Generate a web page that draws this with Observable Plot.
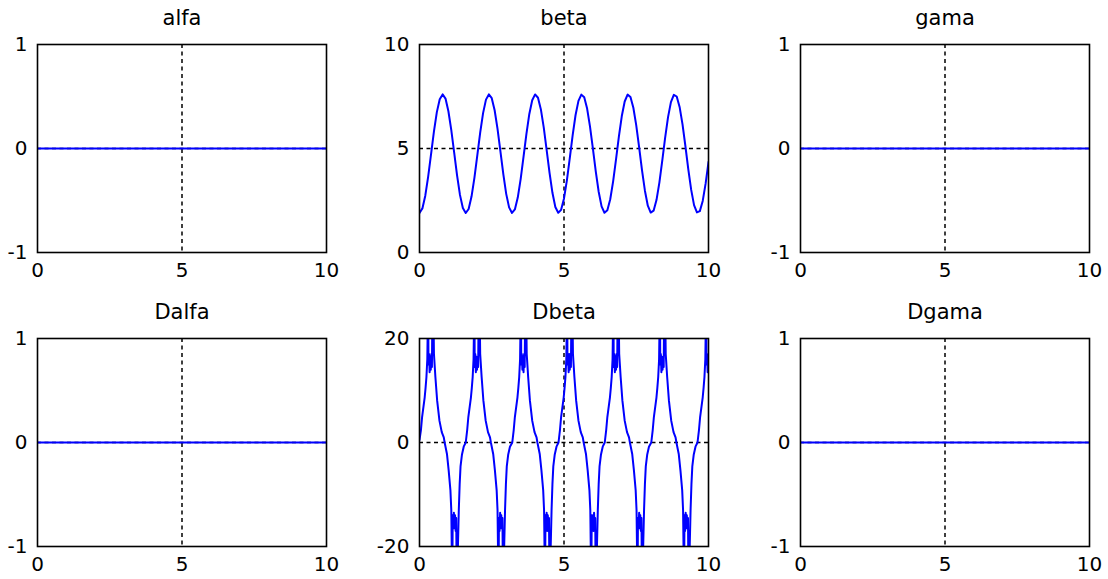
<!DOCTYPE html>
<html>
<head>
<meta charset="utf-8">
<script src="https://cdn.jsdelivr.net/npm/d3@7"></script>
<script src="https://cdn.jsdelivr.net/npm/@observablehq/plot@0.6"></script>
<style>
  html, body { margin: 0; padding: 0; background: #fff; }
  #chart { position: relative; width: 1108px; height: 579px; background: #fff; overflow: hidden; }
  .panel { position: absolute; }
  .panel svg { max-width: none !important; }
</style>
</head>
<body>
<div id="chart"></div>
<script>
// ---------- data ----------
const titles = ["alfa", "beta", "gama", "Dalfa", "Dbeta", "Dgama"];
const xTicks = [0, 5, 10];
const yTicksAlfa = [-1, 0, 1];
const yTicksBeta = [0, 5, 10];
const yTicksGama = [-1, 0, 1];
const yTicksDalfa = [-1, 0, 1];
const yTicksDbeta = [-20, 0, 20];
const yTicksDgama = [-1, 0, 1];

// flat series (alfa, gama, Dalfa, Dgama are constantly zero)
const flatTime = [0, 10];
const alfaValue = [0, 0];
const gamaValue = [0, 0];
const dalfaValue = [0, 0];
const dgamaValue = [0, 0];

// beta, every 0.1
const betaTime = [
  0.0, 0.1, 0.2, 0.3, 0.4, 0.5, 0.6, 0.7, 0.8, 0.9,
  1.0, 1.1, 1.2, 1.3, 1.4, 1.5, 1.6, 1.7, 1.8, 1.9,
  2.0, 2.1, 2.2, 2.3, 2.4, 2.5, 2.6, 2.7, 2.8, 2.9,
  3.0, 3.1, 3.2, 3.3, 3.4, 3.5, 3.6, 3.7, 3.8, 3.9,
  4.0, 4.1, 4.2, 4.3, 4.4, 4.5, 4.6, 4.7, 4.8, 4.9,
  5.0, 5.1, 5.2, 5.3, 5.4, 5.5, 5.6, 5.7, 5.8, 5.9,
  6.0, 6.1, 6.2, 6.3, 6.4, 6.5, 6.6, 6.7, 6.8, 6.9,
  7.0, 7.1, 7.2, 7.3, 7.4, 7.5, 7.6, 7.7, 7.8, 7.9,
  8.0, 8.1, 8.2, 8.3, 8.4, 8.5, 8.6, 8.7, 8.8, 8.9,
  9.0, 9.1, 9.2, 9.3, 9.4, 9.5, 9.6, 9.7, 9.8, 9.9,
  10.0
];
const betaValue = [
  1.90, 2.12, 2.73, 3.65, 4.73, 5.82, 6.75, 7.37, 7.60, 7.40,
  6.79, 5.88, 4.80, 3.71, 2.77, 2.14, 1.90, 2.09, 2.69, 3.59,
  4.67, 5.76, 6.70, 7.35, 7.60, 7.42, 6.84, 5.94, 4.86, 3.77,
  2.82, 2.17, 1.90, 2.07, 2.64, 3.53, 4.61, 5.70, 6.66, 7.32,
  7.60, 7.44, 6.88, 6.00, 4.92, 3.83, 2.87, 2.19, 1.91, 2.05,
  2.60, 3.47, 4.54, 5.64, 6.61, 7.29, 7.59, 7.46, 6.92, 6.05,
  4.99, 3.89, 2.92, 2.22, 1.91, 2.03, 2.56, 3.42, 4.48, 5.58,
  6.56, 7.26, 7.59, 7.48, 6.96, 6.11, 5.05, 3.95, 2.97, 2.25,
  1.92, 2.01, 2.52, 3.36, 4.42, 5.52, 6.51, 7.23, 7.58, 7.50,
  7.00, 6.17, 5.12, 4.01, 3.02, 2.28, 1.93, 1.99, 2.48, 3.31,
  4.35
];

// Dbeta (values beyond +-20 leave the axes and are clipped)
const dbetaTime = [
  0.00, 0.05, 0.09, 0.14, 0.18, 0.21, 0.24, 0.27, 0.29, 0.30, 0.31, 0.33, 0.35, 0.37, 0.39, 0.41, 0.43, 0.45, 0.48, 0.50, 0.55, 0.61, 0.69, 0.77, 0.84, 0.87, 0.95, 1.01, 1.07, 1.10, 1.12, 1.13, 1.15, 1.17, 1.19, 1.21, 1.23, 1.25, 1.27, 1.29, 1.31, 1.33, 1.36, 1.39, 1.42, 1.47, 1.53,
  1.60, 1.65, 1.69, 1.74, 1.78, 1.81, 1.84, 1.87, 1.89, 1.90, 1.91, 1.93, 1.95, 1.97, 1.99, 2.01, 2.03, 2.05, 2.08, 2.10, 2.15, 2.21, 2.29, 2.37, 2.44, 2.47, 2.55, 2.61, 2.67, 2.70, 2.72, 2.73, 2.75, 2.77, 2.79, 2.81, 2.83, 2.85, 2.87, 2.89, 2.91, 2.93, 2.96, 2.99, 3.02, 3.07, 3.13,
  3.21, 3.26, 3.30, 3.35, 3.39, 3.42, 3.45, 3.48, 3.50, 3.51, 3.52, 3.54, 3.56, 3.58, 3.60, 3.62, 3.64, 3.66, 3.69, 3.71, 3.76, 3.82, 3.90, 3.98, 4.05, 4.08, 4.16, 4.22, 4.28, 4.31, 4.33, 4.34, 4.36, 4.38, 4.40, 4.42, 4.44, 4.46, 4.48, 4.50, 4.52, 4.54, 4.57, 4.60, 4.63, 4.68, 4.74,
  4.81, 4.86, 4.90, 4.95, 4.99, 5.02, 5.05, 5.08, 5.10, 5.11, 5.12, 5.14, 5.16, 5.18, 5.20, 5.22, 5.24, 5.26, 5.29, 5.31, 5.36, 5.42, 5.50, 5.58, 5.65, 5.68, 5.76, 5.82, 5.88, 5.91, 5.93, 5.94, 5.96, 5.98, 6.00, 6.02, 6.04, 6.06, 6.08, 6.10, 6.12, 6.14, 6.17, 6.20, 6.23, 6.28, 6.34,
  6.41, 6.46, 6.50, 6.55, 6.59, 6.62, 6.65, 6.68, 6.70, 6.71, 6.72, 6.74, 6.76, 6.78, 6.80, 6.82, 6.84, 6.86, 6.89, 6.91, 6.96, 7.02, 7.10, 7.18, 7.25, 7.28, 7.36, 7.42, 7.48, 7.51, 7.53, 7.54, 7.56, 7.58, 7.60, 7.62, 7.64, 7.66, 7.68, 7.70, 7.72, 7.74, 7.77, 7.80, 7.83, 7.88, 7.94,
  8.02, 8.07, 8.11, 8.16, 8.20, 8.23, 8.26, 8.29, 8.31, 8.32, 8.33, 8.35, 8.37, 8.39, 8.41, 8.43, 8.45, 8.47, 8.50, 8.52, 8.57, 8.63, 8.71, 8.79, 8.86, 8.89, 8.97, 9.03, 9.09, 9.12, 9.14, 9.15, 9.17, 9.19, 9.21, 9.23, 9.25, 9.27, 9.29, 9.31, 9.33, 9.35, 9.38, 9.41, 9.44, 9.49, 9.55,
  9.62, 9.67, 9.71, 9.76, 9.80, 9.83, 9.86, 9.89, 9.91, 9.92, 9.93, 9.95, 9.97, 9.99, 10.00
];
const dbetaValue = [
  0.5, 2.4, 4.9, 7.0, 8.7, 10.5, 12.6, 16, 24, 30, 15, 17, 13.5, 16.5, 14, 17, 14.5, 28, 26, 17, 12.6, 8.1, 4.2, 2.0, 1.0, 0, -2.2, -5.4, -9.2, -13, -22, -30, -14, -16.5, -13.5, -16.5, -14, -17, -14.5, -28, -26, -20, -13, -8, -4.6, -2.3, -0.8,
  0, 2.4, 4.9, 7.0, 8.7, 10.5, 12.6, 16, 24, 30, 14.5, 17, 13.5, 16.5, 14, 16.5, 14.5, 28, 26, 17, 12.6, 8.1, 4.2, 2.0, 1.0, 0, -2.2, -5.4, -9.2, -13, -22, -30, -14.5, -17, -13.5, -16.5, -14, -16.5, -14.5, -28, -26, -20, -13, -8, -4.6, -2.3, -0.8,
  0, 2.4, 4.9, 7.0, 8.7, 10.5, 12.6, 16, 24, 30, 15, 17, 14, 16.5, 13.5, 17, 14.5, 28, 26, 17, 12.6, 8.1, 4.2, 2.0, 1.0, 0, -2.2, -5.4, -9.2, -13, -22, -30, -14, -16.5, -13.5, -17, -14, -16.5, -14.5, -28, -26, -20, -13, -8, -4.6, -2.3, -0.8,
  0, 2.4, 4.9, 7.0, 8.7, 10.5, 12.6, 16, 24, 30, 15, 16.5, 13.5, 17, 14, 16.5, 14.5, 28, 26, 17, 12.6, 8.1, 4.2, 2.0, 1.0, 0, -2.2, -5.4, -9.2, -13, -22, -30, -14, -16.5, -14, -17, -13.5, -16.5, -14.5, -28, -26, -20, -13, -8, -4.6, -2.3, -0.8,
  0, 2.4, 4.9, 7.0, 8.7, 10.5, 12.6, 16, 24, 30, 14.5, 17, 13.5, 16.5, 14, 17, 14.5, 28, 26, 17, 12.6, 8.1, 4.2, 2.0, 1.0, 0, -2.2, -5.4, -9.2, -13, -22, -30, -14.5, -16.5, -13.5, -16.5, -14, -17, -14.5, -28, -26, -20, -13, -8, -4.6, -2.3, -0.8,
  0, 2.4, 4.9, 7.0, 8.7, 10.5, 12.6, 16, 24, 30, 15, 17, 13.5, 16.5, 14, 16.5, 14.5, 28, 26, 17, 12.6, 8.1, 4.2, 2.0, 1.0, 0, -2.2, -5.4, -9.2, -13, -22, -30, -14, -17, -13.5, -16.5, -14, -16.5, -14.5, -28, -26, -20, -13, -8, -4.6, -2.3, -0.8,
  0, 2.4, 4.9, 7.0, 8.7, 10.5, 12.6, 16, 24, 30, 15, 17, 13.5, 16.5, 14
];

// ---------- layout ----------
const FRAME_W = 289, FRAME_H = 208;
const ML = 48, MR = 16, MT = 50, MB = 40;
const frameLefts = [37, 419, 800];
const frameTops = [44, 338];

const panels = [
  {title: titles[0], t: flatTime, v: alfaValue, ticks: yTicksAlfa},
  {title: titles[1], t: betaTime, v: betaValue, ticks: yTicksBeta},
  {title: titles[2], t: flatTime, v: gamaValue, ticks: yTicksGama},
  {title: titles[3], t: flatTime, v: dalfaValue, ticks: yTicksDalfa},
  {title: titles[4], t: dbetaTime, v: dbetaValue, ticks: yTicksDbeta},
  {title: titles[5], t: flatTime, v: dgamaValue, ticks: yTicksDgama}
];

const chart = document.getElementById("chart");
const FONT = "DejaVu Sans, Liberation Sans, sans-serif";

panels.forEach((p, i) => {
  const row = Math.floor(i / 3), col = i % 3;
  const data = p.t.map((t, j) => ({t, v: p.v[j]}));
  const lo = p.ticks[0], mid = p.ticks[1], hi = p.ticks[2];
  const svg = Plot.plot({
    width: ML + FRAME_W + MR,
    height: MT + FRAME_H + MB,
    marginLeft: ML, marginRight: MR, marginTop: MT, marginBottom: MB,
    style: {fontFamily: FONT, fontSize: "20px", color: "black", background: "transparent", overflow: "visible", maxWidth: "none"},
    x: {domain: [0, 10]},
    y: {domain: [lo, hi]},
    marks: [
      Plot.ruleX([xTicks[1]], {stroke: "black", strokeWidth: 1.5, strokeDasharray: "4,3.5"}),
      Plot.ruleY([mid], {stroke: "black", strokeWidth: 1.5, strokeDasharray: "4,3.5"}),
      Plot.line(data, {x: "t", y: "v", stroke: "#0000ff", strokeWidth: 2, clip: true}),
      Plot.frame({stroke: "black", strokeWidth: 1.6}),
      Plot.axisX({ticks: xTicks, tickSize: 0, tickPadding: 10, tickFormat: d => String(d), label: null, fontSize: 20}),
      Plot.axisY({ticks: p.ticks, tickSize: 0, tickPadding: 10, tickFormat: d => String(d), label: null, fontSize: 20}),
      Plot.text([p.title], {frameAnchor: "top", lineAnchor: "middle", dy: -26, fontSize: 21, fill: "black"})
    ]
  });
  svg.style.maxWidth = "none";
  const wrap = document.createElement("div");
  wrap.className = "panel";
  wrap.style.left = (frameLefts[col] - ML) + "px";
  wrap.style.top = (frameTops[row] - MT) + "px";
  wrap.style.width = (ML + FRAME_W + MR) + "px";
  wrap.appendChild(svg);
  chart.appendChild(wrap);
});
</script>
</body>
</html>
